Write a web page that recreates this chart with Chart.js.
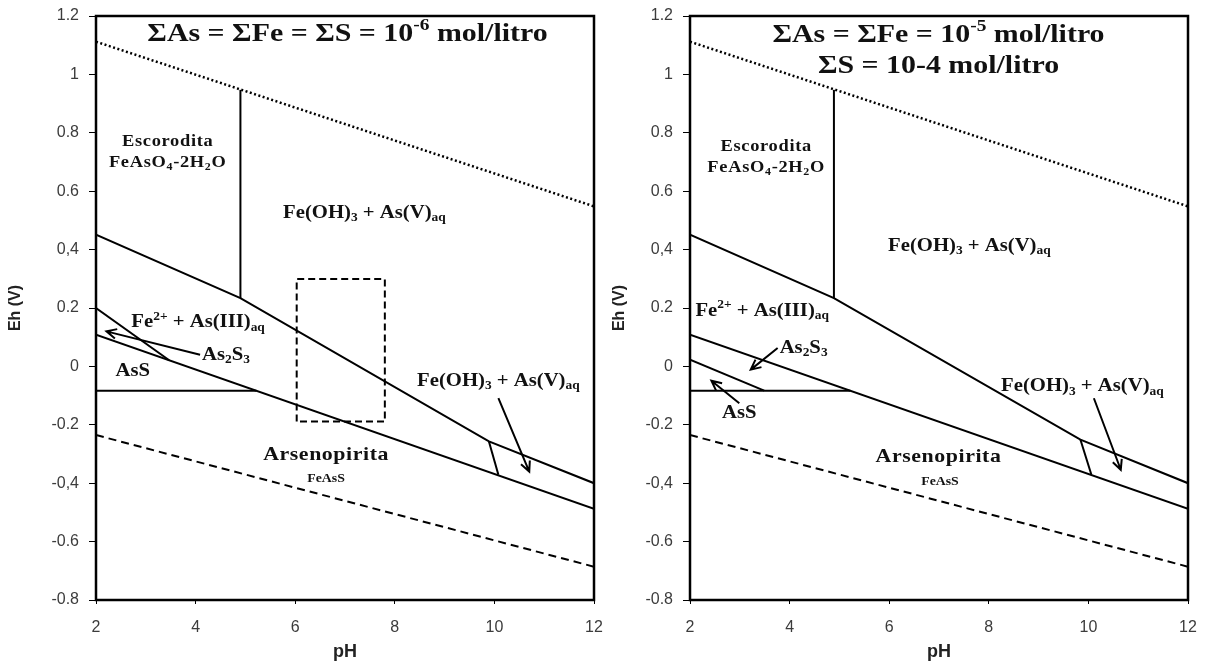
<!DOCTYPE html>
<html>
<head>
<meta charset="utf-8">
<script src="https://cdn.jsdelivr.net/npm/chart.js@4.4.1/dist/chart.umd.min.js"></script>
<style>
  body { margin: 0; background: #fff; }
  .panel { position: absolute; top: 0; width: 604px; height: 666px; }
</style>
</head>
<body>
<div class="panel" style="left:0"><canvas id="left" width="604" height="666"></canvas></div>
<div class="panel" style="left:604px"><canvas id="right" width="604" height="666"></canvas></div>
<script>
// axis ticks
var phTicks = [2, 4, 6, 8, 10, 12];
var ehTickLabels = ['-0.8', '-0.6', '-0,4', '-0.2', '0', '0.2', '0,4', '0.6', '0.8', '1', '1.2'];

// water stability limits (same in both diagrams)
var o2Line = [[2, 1.112], [12, 0.548]];
var h2Line = [[2, -0.235], [12, -0.686]];

// left diagram: 10^-6 mol/l
var leftFeOH3Line = [[2, 0.451], [4.9, 0.234], [9.89, -0.257], [12, -0.40]];
var leftScorodite = [[4.9, 0.234], [4.9, 0.947]];
var leftArsenopyrite = [[2, 0.109], [12, -0.488]];
var leftAsS = [[2, -0.083], [5.22, -0.083]];
var leftAs2S3 = [[2, 0.2], [3.47, 0.021]];
var leftStep = [[9.89, -0.257], [10.08, -0.371]];
var leftBox = [[6.03, -0.189], [6.03, 0.299], [7.8, 0.299], [7.8, -0.189], [6.03, -0.189]];

// right diagram: As, Fe 10^-5, S 10^-4 mol/l
var rightFeOH3Line = [[2, 0.451], [4.89, 0.234], [9.84, -0.251], [12, -0.40]];
var rightScorodite = [[4.89, 0.234], [4.89, 0.947]];
var rightArsenopyrite = [[2, 0.109], [12, -0.488]];
var rightAsS = [[2, -0.083], [5.22, -0.083]];
var rightAs2S3 = [[2, 0.023], [3.49, -0.083]];
var rightStep = [[9.84, -0.251], [10.06, -0.371]];

// arrows: [tail, head]
var leftArrows = [
    [[4.09, 0.04], [2.21, 0.12]],
    [[10.08, -0.109], [10.7, -0.36]]
];
var rightArrows = [
    [[3.76, 0.063], [3.22, -0.011]],
    [[2.99, -0.126], [2.43, -0.049]],
    [[10.11, -0.109], [10.65, -0.354]]
];

// text pieces: [text, '' | 'sub' | 'sup']
var txtFeOH3 = [['Fe(OH)', ''], ['3', 'sub'], [' + As(V)', ''], ['aq', 'sub']];
var txtFe2 = [['Fe', ''], ['2+', 'sup'], [' + As(III)', ''], ['aq', 'sub']];
var txtAs2S3 = [['As', ''], ['2', 'sub'], ['S', ''], ['3', 'sub']];
var txtScorodite = [['FeAsO', ''], ['4', 'sub'], ['-2H', ''], ['2', 'sub'], ['O', '']];

var leftLabels = [
    { t: [['\u03a3As = \u03a3Fe = \u03a3S = 10', ''], ['-6', 'sup'], [' mol/litro', '']], at: [7.05, 1.137], kind: 'title' },
    { t: [['Escorodita', '']], at: [3.44, 0.77], kind: 'mineral' },
    { t: txtScorodite, at: [3.44, 0.696], kind: 'mineral' },
    { t: txtFeOH3, at: [7.39, 0.525], kind: 'field' },
    { t: txtFe2, at: [4.05, 0.15], kind: 'field' },
    { t: txtAs2S3, at: [4.13, 0.039], kind: 'field', align: 'left' },
    { t: [['AsS', '']], at: [2.74, -0.018], kind: 'field' },
    { t: txtFeOH3, at: [10.08, -0.051], kind: 'field' },
    { t: [['Arsenopirita', '']], at: [6.62, -0.303], kind: 'big' },
    { t: [['FeAsS', '']], at: [6.62, -0.386], kind: 'small' }
];
var rightLabels = [
    { t: [['\u03a3As = \u03a3Fe = 10', ''], ['-5', 'sup'], [' mol/litro', '']], at: [6.99, 1.135], kind: 'title' },
    { t: [['\u03a3S = 10-4 mol/litro', '']], at: [6.99, 1.027], kind: 'title' },
    { t: [['Escorodita', '']], at: [3.53, 0.753], kind: 'mineral' },
    { t: txtScorodite, at: [3.53, 0.679], kind: 'mineral' },
    { t: txtFeOH3, at: [7.61, 0.411], kind: 'field' },
    { t: txtFe2, at: [3.45, 0.19], kind: 'field' },
    { t: txtAs2S3, at: [3.8, 0.063], kind: 'field', align: 'left' },
    { t: [['AsS', '']], at: [2.99, -0.16], kind: 'field' },
    { t: txtFeOH3, at: [9.88, -0.069], kind: 'field' },
    { t: [['Arsenopirita', '']], at: [6.99, -0.309], kind: 'big' },
    { t: [['FeAsS', '']], at: [7.02, -0.394], kind: 'small' }
];

var textStyles = {
    title:   { size: 26, weight: 'bold', spacing: 0 },
    mineral: { size: 16, weight: 'bold', spacing: 0.6 },
    field:   { size: 18, weight: 'bold', spacing: 0 },
    big:     { size: 19, weight: 'bold', spacing: 0.5 },
    small:   { size: 12, weight: 'bold', spacing: 0 }
};

function pts(arr) {
    return arr.map(function(p) { return { x: p[0], y: p[1] }; });
}

function line(arr, dash, width) {
    return {
        data: pts(arr),
        showLine: true,
        borderColor: '#000',
        borderWidth: width || 2,
        borderDash: dash || [],
        pointRadius: 0,
        fill: false,
        tension: 0
    };
}

function drawRich(ctx, segs, x, y, st, align) {
    ctx.save();
    ctx.translate(x, y);
    ctx.scale(1.15, 1);
    ctx.fillStyle = '#111';
    ctx.textBaseline = 'middle';
    ctx.textAlign = 'left';
    ctx.letterSpacing = st.spacing + 'px';
    var font = function(k) {
        var s = k ? st.size * 0.65 : st.size;
        return st.weight + ' ' + s + 'px "Liberation Serif"';
    };
    var widths = segs.map(function(s) { ctx.font = font(s[1]); return ctx.measureText(s[0]).width; });
    var total = widths.reduce(function(a, b) { return a + b; }, 0);
    var cx = align === 'left' ? 0 : -total / 2;
    segs.forEach(function(s, i) {
        ctx.font = font(s[1]);
        var dy = s[1] === 'sub' ? st.size * 0.28 : (s[1] === 'sup' ? -st.size * 0.32 : 0);
        ctx.fillText(s[0], cx, dy);
        cx += widths[i];
    });
    ctx.restore();
}

var annotate = {
    id: 'annotate',
    afterDatasetsDraw: function(chart) {
        var ctx = chart.ctx, a = chart.chartArea;
        var xs = chart.scales.x, ys = chart.scales.y;
        var opts = chart.options.plugins.annotate;
        ctx.save();
        ctx.strokeStyle = '#000';
        ctx.lineWidth = 2.5;
        ctx.strokeRect(a.left, a.top, a.right - a.left, a.bottom - a.top);

        ctx.lineWidth = 2;
        opts.arrows.forEach(function(ar) {
            var x0 = xs.getPixelForValue(ar[0][0]), y0 = ys.getPixelForValue(ar[0][1]);
            var x1 = xs.getPixelForValue(ar[1][0]), y1 = ys.getPixelForValue(ar[1][1]);
            var ang = Math.atan2(y1 - y0, x1 - x0);
            ctx.beginPath();
            ctx.moveTo(x0, y0);
            ctx.lineTo(x1, y1);
            ctx.moveTo(x1 - 11 * Math.cos(ang - 0.45), y1 - 11 * Math.sin(ang - 0.45));
            ctx.lineTo(x1, y1);
            ctx.lineTo(x1 - 11 * Math.cos(ang + 0.45), y1 - 11 * Math.sin(ang + 0.45));
            ctx.stroke();
        });

        opts.labels.forEach(function(l) {
            drawRich(ctx, l.t, xs.getPixelForValue(l.at[0]), ys.getPixelForValue(l.at[1]), textStyles[l.kind], l.align);
        });
        ctx.restore();
    }
};

function makeChart(id, datasets, labels, arrows, axisWidth, rightPad) {
    var ctx = document.getElementById(id).getContext('2d');
    return new Chart(ctx, {
        type: 'scatter',
        data: { datasets: datasets },
        options: {
            responsive: false,
            animation: false,
            devicePixelRatio: 1,
            layout: { padding: { left: 0, top: 16, right: rightPad, bottom: 0 } },
            plugins: {
                legend: { display: false },
                tooltip: { enabled: false },
                annotate: { labels: labels, arrows: arrows }
            },
            scales: {
                x: {
                    type: 'linear',
                    min: phTicks[0],
                    max: phTicks[phTicks.length - 1],
                    afterBuildTicks: function(s) { s.ticks = phTicks.map(function(v) { return { value: v }; }); },
                    afterFit: function(s) { s.height = 66; s.paddingLeft = 0; s.paddingRight = 0; },
                    border: { display: false },
                    grid: { drawOnChartArea: false, tickLength: 4, color: '#000' },
                    ticks: { color: '#3c3c3c', padding: 14, font: { family: 'Liberation Sans', size: 16 } },
                    title: { display: true, text: 'pH', color: '#222', padding: { top: 0, bottom: 3 },
                             font: { family: 'Liberation Sans', size: 18, weight: 'bold' } }
                },
                y: {
                    min: -0.8,
                    max: 1.2,
                    afterBuildTicks: function(s) { s.ticks = ehTickLabels.map(function(t) { return { value: parseFloat(t.replace(',', '.')) }; }); },
                    afterFit: function(s) { s.width = axisWidth; s.paddingTop = 0; s.paddingBottom = 0; },
                    border: { display: false },
                    grid: { drawOnChartArea: false, tickLength: 7, color: '#000' },
                    ticks: {
                        color: '#3c3c3c', padding: 10,
                        font: { family: 'Liberation Sans', size: 16 },
                        callback: function(v, i) { return ehTickLabels[i]; }
                    },
                    title: { display: true, text: 'Eh (V)', color: '#222', padding: { top: 6, bottom: 0 },
                             font: { family: 'Liberation Sans', size: 16, weight: 'bold' } }
                }
            }
        },
        plugins: [annotate]
    });
}

makeChart('left', [
    line(o2Line, [2, 2.5], 2.5),
    line(h2Line, [8, 5], 2),
    line(leftFeOH3Line),
    line(leftScorodite),
    line(leftArsenopyrite),
    line(leftAsS),
    line(leftAs2S3),
    line(leftStep),
    line(leftBox, [7, 4], 2)
], leftLabels, leftArrows, 96, 10);

makeChart('right', [
    line(o2Line, [2, 2.5], 2.5),
    line(h2Line, [8, 5], 2),
    line(rightFeOH3Line),
    line(rightScorodite),
    line(rightArsenopyrite),
    line(rightAsS),
    line(rightAs2S3),
    line(rightStep)
], rightLabels, rightArrows, 86, 20);
</script>
</body>
</html>
